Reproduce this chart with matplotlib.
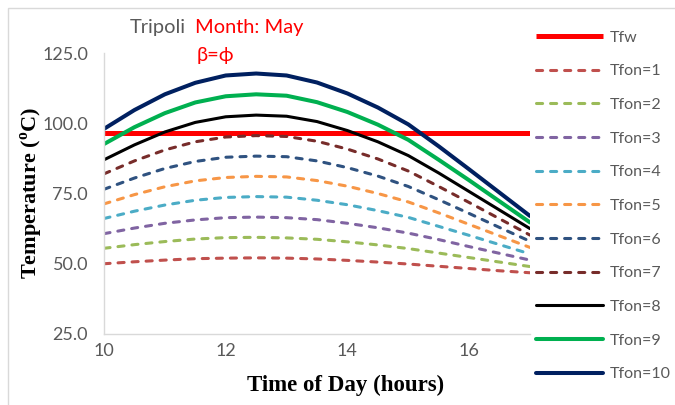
import matplotlib
matplotlib.use("Agg")
import matplotlib.pyplot as plt
from matplotlib.patches import Rectangle
from matplotlib.ticker import FormatStrFormatter

# time of day (hours), half-hour steps
hours = [10, 10.5, 11, 11.5, 12, 12.5, 13, 13.5, 14, 14.5, 15, 15.5, 16, 16.5, 17]

# water temperature line
tfw = [96.6] * len(hours)

# fin temperatures
tfon_1 = [50.0, 50.7, 51.3, 51.8, 52.0, 52.1, 52.0, 51.7, 51.2, 50.6, 49.9, 49.1, 48.3, 47.5, 46.8]
tfon_2 = [55.5, 56.8, 57.9, 58.8, 59.3, 59.4, 59.2, 58.7, 57.8, 56.7, 55.4, 53.8, 52.2, 50.6, 49.0]
tfon_3 = [60.7, 62.7, 64.4, 65.6, 66.4, 66.6, 66.4, 65.7, 64.4, 62.8, 60.9, 58.6, 56.1, 53.7, 51.3]
tfon_4 = [66.1, 68.7, 70.9, 72.6, 73.6, 73.9, 73.7, 72.6, 71.0, 68.9, 66.5, 63.3, 60.1, 56.8, 53.5]
tfon_5 = [71.3, 74.6, 77.4, 79.5, 80.7, 81.1, 80.9, 79.6, 77.6, 75.0, 72.0, 68.1, 64.0, 59.9, 55.8]
tfon_6 = [76.5, 80.5, 83.9, 86.4, 87.9, 88.3, 88.1, 86.6, 84.2, 81.2, 77.5, 72.8, 67.9, 62.9, 58.0]
tfon_7 = [82.0, 86.6, 90.5, 93.4, 95.1, 95.6, 95.3, 93.6, 90.8, 87.3, 83.0, 77.5, 71.8, 66.0, 60.2]
tfon_8 = [87.0, 92.3, 96.9, 100.3, 102.3, 102.9, 102.5, 100.6, 97.4, 93.4, 88.5, 82.3, 75.7, 69.1, 62.5]
tfon_9 = [92.6, 98.6, 103.6, 107.4, 109.6, 110.3, 109.8, 107.5, 104.0, 99.5, 94.1, 87.0, 79.7, 72.2, 64.7]
tfon_10 = [98.0, 104.7, 110.3, 114.4, 117.0, 117.7, 117.0, 114.5, 110.6, 105.6, 99.6, 91.8, 83.6, 75.3, 67.0]

series_labels = ['Tfon=1', 'Tfon=2', 'Tfon=3', 'Tfon=4', 'Tfon=5',
                 'Tfon=6', 'Tfon=7', 'Tfon=8', 'Tfon=9', 'Tfon=10']
series_values = [tfon_1, tfon_2, tfon_3, tfon_4, tfon_5,
                 tfon_6, tfon_7, tfon_8, tfon_9, tfon_10]
series_colors = ['#C0504D', '#9BBB59', '#8064A2', '#4BACC6', '#F79646',
                 '#2F5280', '#772C2A', '#000000', '#00B050', '#002060']

x_ticks = [10, 12, 14, 16]
y_ticks = [25, 50, 75, 100, 125]

plt.rcParams['font.family'] = ['Lato', 'DejaVu Sans']
plt.rcParams['mathtext.fontset'] = 'custom'
plt.rcParams['mathtext.rm'] = 'Liberation Serif:bold'

fig = plt.figure(figsize=(6.75, 4.05), dpi=100)
ax = fig.add_axes([104 / 675, 71 / 405, 426 / 675, 281 / 405])

# chart area frame
fig.patches.append(Rectangle((8 / 675, -0.1), 1.2, 1.1 - 8 / 405, transform=fig.transFigure,
                             fill=False, edgecolor='#D9D9D9', linewidth=1))

ax.plot(hours, tfw, color='#FF0000', linewidth=3.6, label='Tfw', solid_capstyle='butt')
for vals, lab, col in zip(series_values, series_labels, series_colors):
    if lab in ('Tfon=8', 'Tfon=9', 'Tfon=10'):
        lw = 2.2 if lab == 'Tfon=8' else 2.9
        ax.plot(hours, vals, color=col, linewidth=lw, label=lab, solid_capstyle='round')
    else:
        ax.plot(hours, vals, color=col, linewidth=2.2, label=lab,
                dashes=(2.0, 2.6), dash_capstyle='round')

ax.set_xlim(10, 17)
ax.set_ylim(25, 125)
ax.set_xticks(x_ticks)
ax.set_yticks(y_ticks)
ax.yaxis.set_major_formatter(FormatStrFormatter('%.1f'))
ax.tick_params(length=0, labelsize=13, labelcolor='#595959')
ax.tick_params(axis='y', pad=11.5)
ax.tick_params(axis='x', pad=6.5)
for s in ['top', 'right']:
    ax.spines[s].set_visible(False)
for s in ['left', 'bottom']:
    ax.spines[s].set_color('#D9D9D9')
    ax.spines[s].set_linewidth(1)

fig.text(346 / 675, 1 - 385 / 405, 'Time of Day (hours)', family='Liberation Serif',
         fontweight='bold', fontsize=16.5, ha='center', va='center')
fig.text(32 / 675, 1 - 193 / 405, 'Temperature ($^{\\mathrm{o}}$C)', family='Liberation Serif',
         fontweight='bold', fontsize=16, ha='center', va='center', rotation=90)

fig.text(130 / 675, 1 - 28 / 405, 'Tripoli', color='#595959', fontsize=14.4, va='center')
fig.text(195 / 675, 1 - 28 / 405, 'Month: May', color='#FF0000', fontsize=14.4, va='center')
fig.text(197 / 675, 1 - 55 / 405, 'β=ϕ', color='#FF0000', fontsize=14.4, va='center')

fig.legend(loc='upper left', bbox_to_anchor=(530 / 675, 1 - 24 / 405), frameon=False,
           fontsize=11.5, labelcolor='#595959', handlelength=4.2, handletextpad=0.4,
           labelspacing=1.22, borderaxespad=0)

fig.savefig('out.png', dpi=100)
